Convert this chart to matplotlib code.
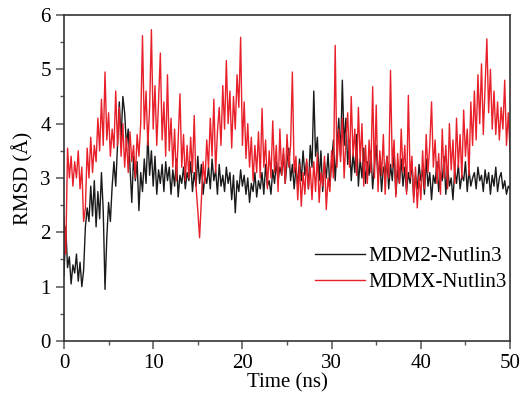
import numpy as np
import matplotlib
matplotlib.use("Agg")
import matplotlib.pyplot as plt
from matplotlib.ticker import MultipleLocator

plt.rcParams['font.family'] = ['Liberation Serif', 'DejaVu Serif']
plt.rcParams['mathtext.fontset'] = 'stix'

# time axis, 0.2 ns steps
time_ns = np.arange(0, 50.01, 0.2)

# MDM2-Nutlin3 RMSD (A)
mdm2 = [
    1.20, 2.10, 1.35, 1.55, 1.05, 1.40, 1.25, 1.60, 1.10, 1.45,
    1.00, 1.30, 2.10, 2.45, 2.20, 2.85, 2.30, 2.95, 2.10, 2.75,
    2.25, 3.10, 2.40, 0.95, 1.90, 2.55, 2.20, 2.85, 3.30, 2.85,
    3.60, 4.40, 3.70, 4.50, 4.20, 3.60, 3.90, 3.20, 2.55, 3.40,
    2.95, 3.30, 2.40, 3.10, 2.75, 3.35, 2.90, 3.80, 3.05, 3.50,
    2.85, 3.40, 2.70, 3.15, 2.90, 3.25, 2.75, 3.30, 2.95, 3.20,
    2.70, 3.15, 2.85, 3.35, 2.65, 3.05, 2.90, 3.20, 2.80, 3.10,
    2.95, 3.30, 2.75, 3.10, 2.85, 3.40, 2.90, 3.25, 2.70, 3.05,
    2.90, 3.20, 2.80, 3.35, 2.95, 3.15, 2.70, 3.25, 2.85, 3.05,
    2.75, 3.20, 2.90, 3.10, 2.60, 3.05, 2.36, 2.95, 2.75, 3.15,
    2.85, 3.05, 2.70, 3.00, 2.55, 2.90, 2.75, 3.10, 2.65, 2.95,
    2.80, 3.10, 2.70, 3.25, 2.85, 2.95, 2.70, 3.15, 2.90, 3.30,
    2.95, 3.20, 3.05, 3.45, 2.90, 3.30, 3.55, 2.95, 3.25, 2.80,
    3.20, 2.85, 3.35, 2.95, 3.50, 3.05, 3.30, 2.80, 3.60, 3.20,
    4.60, 3.40, 3.75, 2.95, 3.50, 2.75, 3.30, 3.00, 3.45, 2.85,
    3.30, 3.70, 2.95, 3.55, 4.10, 3.40, 4.80, 3.60, 4.10, 3.25,
    3.70, 2.95, 3.45, 3.10, 3.80, 2.85, 3.35, 3.00, 3.55, 2.90,
    3.30, 3.05, 3.50, 2.80, 3.25, 3.60, 2.95, 3.35, 2.75, 3.20,
    3.05, 3.40, 2.80, 3.25, 2.95, 3.50, 2.70, 3.15, 2.90, 3.35,
    2.85, 3.20, 2.75, 3.10, 2.90, 3.30, 2.65, 3.05, 2.80, 3.25,
    2.95, 3.15, 2.70, 3.35, 2.85, 3.10, 2.60, 3.05, 2.90, 3.30,
    2.75, 3.10, 2.95, 3.40, 2.70, 3.20, 2.85, 3.00, 2.60, 3.15,
    2.90, 3.25, 2.80, 3.05, 2.95, 3.30, 2.75, 3.15, 2.85, 3.00,
    3.10, 2.80, 3.20, 2.95, 3.05, 2.75, 3.15, 2.90, 3.10, 2.70,
    3.05, 2.85, 3.20, 2.75, 3.00, 3.10, 2.80, 2.95, 2.70, 2.85,
    2.80,
]

# MDMX-Nutlin3 RMSD (A)
mdmx = [
    2.30, 1.60, 3.55, 3.00, 3.40, 2.85, 3.30, 3.00, 3.50, 2.80,
    3.20, 2.20, 2.45, 3.55, 3.00, 3.75, 3.10, 3.60, 3.30, 4.10,
    3.50, 4.45, 3.60, 4.95, 3.70, 4.20, 3.40, 3.90, 3.55, 4.60,
    3.60, 4.30, 3.40, 4.00, 3.20, 3.75, 3.10, 3.85, 3.30, 3.60,
    3.00, 3.80, 3.40, 4.00, 5.62, 3.90, 4.60, 3.60, 4.30, 5.73,
    3.90, 4.70, 3.60, 4.40, 5.30, 3.70, 4.40, 3.40, 4.90, 3.50,
    4.10, 3.20, 3.90, 2.95, 3.70, 4.55, 3.20, 3.80, 2.95, 3.60,
    3.00, 3.75, 3.10, 4.15, 2.85, 2.40, 1.90, 2.60, 3.30, 2.90,
    3.70, 3.20, 4.10, 3.40, 4.45, 3.10, 3.85, 4.30, 3.60, 4.70,
    3.90, 5.16, 4.00, 4.60, 3.55, 4.50, 3.90, 4.90, 4.30, 5.59,
    3.60, 4.40, 3.36, 4.00, 3.20, 3.75, 2.95, 3.60, 3.10, 3.85,
    3.00, 4.28, 3.20, 3.70, 2.80, 3.50, 3.00, 4.05, 3.10, 3.60,
    2.75, 3.90, 3.05, 3.55, 2.90, 3.80, 3.20, 3.60, 4.95, 3.10,
    3.40, 2.60, 3.25, 2.48, 3.10, 2.70, 3.35, 2.80, 3.20, 2.60,
    3.30, 2.75, 3.45, 2.55, 3.10, 2.85, 3.40, 2.42, 3.00, 2.75,
    3.50, 3.00, 5.44, 3.20, 3.90, 3.30, 4.10, 3.00, 3.70, 4.20,
    3.20, 4.50, 3.40, 3.90, 3.05, 4.30, 3.30, 4.00, 2.85, 3.60,
    2.90, 3.70, 3.10, 4.68, 3.00, 4.34, 2.75, 3.50, 3.05, 3.80,
    2.70, 3.40, 3.00, 4.98, 3.20, 3.70, 2.65, 3.45, 2.90, 3.90,
    3.10, 3.60, 2.70, 4.52, 3.00, 3.40, 2.55, 3.20, 2.45, 3.05,
    2.60, 3.50, 2.80, 3.80, 3.10, 3.60, 4.40, 3.20, 3.70, 2.90,
    3.45, 2.70, 3.90, 3.00, 3.60, 2.80, 4.00, 3.15, 3.70, 2.90,
    4.10, 3.20, 3.80, 3.00, 4.25, 3.40, 3.90, 3.05, 4.40, 3.60,
    4.60, 3.70, 4.90, 4.00, 5.10, 3.80, 4.70, 5.56, 4.20, 5.00,
    3.90, 4.60, 3.80, 4.40, 3.70, 4.30, 3.90, 4.80, 3.60, 4.20,
    3.50,
]

fig = plt.figure(figsize=(5.21, 3.94), dpi=100)
ax = fig.add_axes([0.1228, 0.1345, 0.8562, 0.8275])

ax.plot(time_ns, mdm2, color='#1a1a1a', lw=1.0, label='MDM2-Nutlin3')
ax.plot(time_ns, mdmx, color='#e8202a', lw=1.0, label='MDMX-Nutlin3')

ax.set_xlim(0, 50)
ax.set_ylim(0, 6)
ax.xaxis.set_major_locator(MultipleLocator(10))
ax.xaxis.set_minor_locator(MultipleLocator(5))
ax.yaxis.set_major_locator(MultipleLocator(1))
ax.yaxis.set_minor_locator(MultipleLocator(0.5))
ax.tick_params(which='major', direction='out', length=6, width=1.1,
               color='#555555', labelsize=15, top=False, right=False)
ax.tick_params(which='minor', direction='out', length=3, width=1.0,
               color='#555555', top=False, right=False)
for s in ax.spines.values():
    s.set_color('#333333')
    s.set_linewidth(1.2)

ax.set_xlabel('Time (ns)', fontsize=15, labelpad=0)
ax.set_ylabel('RMSD (Å)', fontsize=15, labelpad=5)

ax.legend(loc='center left', bbox_to_anchor=(0.54, 0.22), frameon=False,
          fontsize=15, handlelength=2.4, handletextpad=0.15,
          labelspacing=0.3, borderpad=0)

fig.savefig('out.png', dpi=100)
